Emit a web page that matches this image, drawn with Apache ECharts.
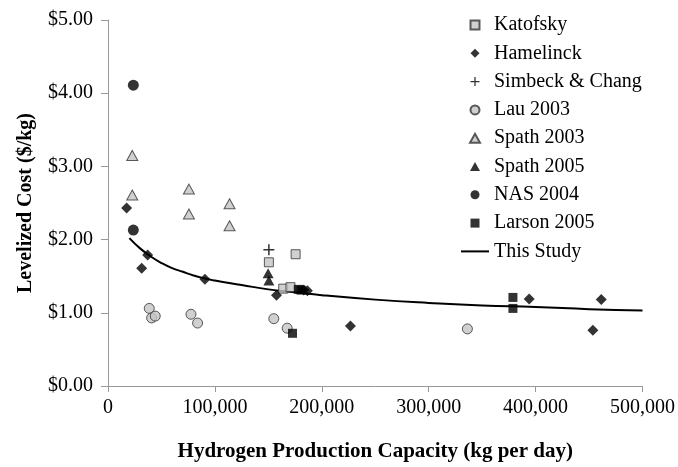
<!DOCTYPE html>
<html>
<head>
<meta charset="utf-8">
<script src="https://cdn.jsdelivr.net/npm/echarts@6/dist/echarts.min.js"></script>
<style>html,body{margin:0;padding:0;background:#fff}#c{width:678px;height:467px}</style>
</head>
<body>
<div id="c"></div>
<script>
const katofsky = [[150500,1.69],[163900,1.33],[170700,1.35],[175500,1.80]];
const hamelinck = [[17400,2.43],[31500,1.61],[37100,1.79],[90700,1.46],[157600,1.24],[183000,1.31],[186500,1.30],[226800,0.82],[394000,1.19],[453600,0.76],[461400,1.18]];
const simbeck = [[150500,1.86]];
const lau2003 = [[38600,1.06],[40800,0.93],[44200,0.955],[77600,0.98],[83800,0.86],[155100,0.92],[167600,0.79],[336200,0.78]];
const spath2003 = [[22700,3.15],[22700,2.61],[75700,2.69],[75700,2.35],[113700,2.49],[113700,2.19]];
const spath2005 = [[149800,1.54],[150500,1.44]];
const nas2004 = [[23700,4.11],[23700,2.13]];
const larson2005 = [[172600,0.72],[178000,1.32],[180500,1.31],[378800,1.21],[378800,1.06]];
const thisStudy = [[20000,2.02],[30000,1.88],[40000,1.77],[50000,1.68],[60000,1.61],[70000,1.56],[80000,1.51],[90000,1.47],[100000,1.44],[125000,1.38],[150000,1.32],[175000,1.28],[200000,1.24],[250000,1.18],[300000,1.135],[350000,1.10],[400000,1.08],[450000,1.05],[500000,1.03]];
const legendNames = ['Katofsky','Hamelinck','Simbeck & Chang','Lau 2003','Spath 2003','Spath 2005','NAS 2004','Larson 2005','This Study'];
const xTicks = [0,100000,200000,300000,400000,500000];
const yTicks = [0,1,2,3,4,5];

const FONT = "'Liberation Serif','Times New Roman',serif";
const P = {
  square:'path://M0,0h10v10h-10z',
  diamond:'path://M5,0L10,5L5,10L0,5z',
  plus:'path://M4.3,0h1.4v4.3h4.3v1.4h-4.3v4.3h-1.4v-4.3h-4.3v-1.4h4.3z',
  circle:'path://M5,0A5,5,0,1,1,5,10A5,5,0,1,1,5,0z',
  triangle:'path://M5,0L10,9L0,9z',
  line:'path://M0,0h28v2h-28z'
};
const legendIcons = {
  'Katofsky':P.square,'Hamelinck':P.diamond,'Simbeck & Chang':P.plus,'Lau 2003':P.circle,
  'Spath 2003':P.triangle,'Spath 2005':P.triangle,'NAS 2004':P.circle,'Larson 2005':P.square,'This Study':P.line
};
const grayStyle = {color:'#c4c4c4', borderColor:'#333', borderWidth:1};
const blackStyle = {color:'#000'};

function sc(name, data, symbol, size, style){
  return {name, type:'scatter', data, symbol, symbolSize:size, itemStyle:style, z:3};
}

const chart = echarts.init(document.getElementById('c'), null, {renderer:'canvas'});
chart.setOption({
  animation:false,
  backgroundColor:'#fff',
  textStyle:{fontFamily:FONT},
  grid:{left:108, right:35, top:20, bottom:77, containLabel:false},
  legend:{
    orient:'vertical', left:456, top:10,
    data:legendNames.map(n=>({name:n, icon:legendIcons[n]})),
    itemWidth:28, itemHeight:9, itemGap:8.3,
    textStyle:{fontFamily:FONT, fontSize:20, color:'#000', lineHeight:20},
    symbolKeepAspect:true
  },
  xAxis:{
    type:'value', min:xTicks[0], max:xTicks[xTicks.length-1], interval:100000,
    axisLine:{lineStyle:{color:'#999', width:1}},
    axisTick:{show:true, inside:false, length:6, lineStyle:{color:'#999'}},
    splitLine:{show:false},
    axisLabel:{fontFamily:FONT, fontSize:20, color:'#000', margin:12,
      formatter:v=>String(v).replace(/\B(?=(\d{3})+(?!\d))/g, ',')},
    name:'Hydrogen Production Capacity (kg per day)', nameLocation:'middle', nameGap:55,
    nameTextStyle:{fontFamily:FONT, fontSize:21, fontWeight:'bold', color:'#000'}
  },
  yAxis:{
    type:'value', min:yTicks[0], max:yTicks[yTicks.length-1], interval:1,
    axisLine:{show:true, lineStyle:{color:'#999', width:1}},
    axisTick:{show:true, inside:false, length:7, lineStyle:{color:'#999'}},
    splitLine:{show:false},
    axisLabel:{fontFamily:FONT, fontSize:20, color:'#000', margin:15,
      formatter:v=>'$'+v.toFixed(2)},
    name:'Levelized Cost ($/kg)', nameLocation:'middle', nameGap:72, nameRotate:90,
    nameTextStyle:{fontFamily:FONT, fontSize:20, fontWeight:'bold', color:'#000'}
  },
  series:[
    {name:'This Study', type:'line', data:thisStudy, smooth:true, symbol:'none', showSymbol:false,
     lineStyle:{color:'#000', width:2}, itemStyle:{color:'#000'}, z:2},
    sc('Katofsky', katofsky, 'rect', 9, grayStyle),
    sc('Hamelinck', hamelinck, 'diamond', 11, blackStyle),
    sc('Simbeck & Chang', simbeck, P.plus, 11, blackStyle),
    sc('Lau 2003', lau2003, 'circle', 10, grayStyle),
    sc('Spath 2003', spath2003, 'triangle', [11,10], grayStyle),
    sc('Spath 2005', spath2005, 'triangle', [11,10], blackStyle),
    sc('NAS 2004', nas2004, 'circle', 11, blackStyle),
    sc('Larson 2005', larson2005, 'rect', 9, blackStyle)
  ]
});
</script>
</body>
</html>
